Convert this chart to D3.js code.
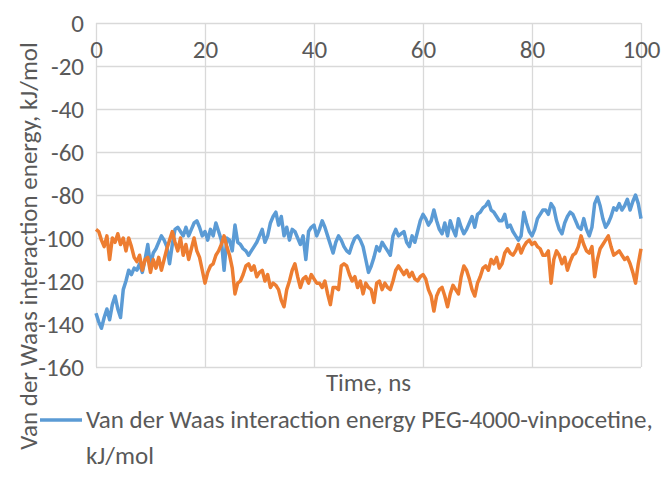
<!DOCTYPE html>
<html>
<head>
<meta charset="utf-8">
<script src="https://cdn.jsdelivr.net/npm/d3@7"></script>
<style>
  body { margin: 0; background: #fff; }
  text { font-family: Carlito, Calibri, Lato, sans-serif; fill: #595959; }
</style>
</head>
<body>
<div id="chart"></div>
<script>
// time axis: one sample every 0.5 ns, 0..100
const timeStep = 0.5;
const xTicks = [0, 20, 40, 60, 80, 100];
const yTicks = [0, -20, -40, -60, -80, -100, -120, -140, -160];

// PEG-4000 - vinpocetine (blue)
const pegVinpocetine = [
  -135,-139,-142,-137,-133,-138,-131,-127,-133,-137,
  -124,-120,-115,-117,-114,-115,-112,-116,-110,-103,
  -113,-107,-105,-102,-99,-101,-104,-112,-103,-96,
  -95,-97,-99,-95,-99,-96,-93,-92,-95,-99,
  -97,-101,-96,-99,-93,-97,-101,-115,-100,-101,
  -106,-94,-102,-103,-105,-106,-108,-106,-104,-102,
  -99,-96,-102,-99,-93,-90,-88,-94,-90,-99,
  -95,-101,-96,-97,-100,-103,-99,-110,-97,-95,
  -94,-99,-96,-92,-95,-99,-103,-107,-102,-99,
  -101,-104,-106,-107,-103,-100,-99,-101,-104,-110,
  -116,-113,-109,-104,-106,-102,-104,-106,-108,-99,
  -96,-99,-98,-97,-102,-104,-99,-102,-97,-92,
  -89,-91,-94,-92,-87,-92,-96,-98,-93,-99,
  -92,-96,-99,-91,-95,-98,-96,-93,-90,-95,
  -89,-88,-86,-85,-83,-87,-88,-90,-92,-92,
  -89,-95,-94,-97,-99,-101,-99,-88,-93,-97,
  -99,-96,-91,-89,-87,-87,-89,-84,-86,-92,
  -96,-98,-93,-90,-88,-89,-92,-95,-96,-91,
  -96,-99,-95,-84,-81,-85,-91,-95,-93,-90,
  -86,-87,-84,-87,-85,-82,-87,-83,-80,-84,
  -91
];

// second series (orange)
const secondSeries = [
  -96,-97,-101,-104,-99,-110,-100,-102,-98,-103,
  -100,-106,-100,-104,-109,-111,-108,-115,-110,-109,
  -116,-110,-114,-109,-115,-110,-105,-101,-97,-102,
  -106,-100,-108,-103,-110,-105,-100,-106,-109,-115,
  -121,-116,-113,-112,-108,-106,-103,-99,-104,-108,
  -114,-126,-121,-120,-117,-113,-112,-115,-113,-118,
  -116,-115,-120,-117,-123,-121,-122,-124,-129,-132,
  -124,-120,-115,-112,-118,-123,-119,-118,-121,-117,
  -119,-121,-121,-123,-120,-126,-131,-123,-123,-124,
  -113,-112,-113,-117,-120,-118,-123,-120,-126,-121,
  -123,-124,-130,-121,-120,-124,-121,-123,-124,-120,
  -115,-113,-115,-117,-115,-118,-116,-119,-120,-118,
  -117,-119,-124,-127,-134,-127,-124,-123,-127,-132,
  -126,-122,-124,-126,-118,-113,-115,-119,-124,-127,
  -121,-118,-114,-113,-115,-110,-112,-109,-114,-112,
  -107,-105,-107,-108,-106,-103,-107,-104,-102,-101,
  -103,-102,-104,-105,-108,-108,-106,-121,-110,-106,
  -108,-112,-109,-115,-111,-108,-107,-104,-99,-103,
  -106,-107,-104,-118,-110,-105,-103,-101,-99,-104,
  -108,-107,-106,-108,-110,-109,-112,-116,-121,-112,
  -105
];

const legendLabel = ['Van der Waas interaction energy PEG-4000-vinpocetine,', 'kJ/mol'];
const yTitle = 'Van der Waas interaction energy, kJ/mol';
const xTitle = 'Time, ns';

const width = 670, height = 488;
const margin = { left: 96, right: 29, top: 23, bottom: 121 };
const fontSize = 25;

const svg = d3.select('#chart').append('svg')
  .attr('width', width)
  .attr('height', height);

const x = d3.scaleLinear().domain([0, 100]).range([margin.left, width - margin.right]);
const y = d3.scaleLinear().domain([0, -160]).range([margin.top, height - margin.bottom]);

// grid
svg.append('g')
  .attr('class', 'grid-y')
  .attr('transform', `translate(${margin.left},0)`)
  .call(d3.axisLeft(y).tickValues(yTicks).tickSize(-(x.range()[1] - x.range()[0])).tickFormat(''))
  .call(g => g.select('.domain').remove())
  .call(g => g.selectAll('line').attr('stroke', '#d9d9d9').attr('stroke-width', 1.3));

svg.append('g')
  .attr('class', 'grid-x')
  .attr('transform', `translate(0,${y(-160)})`)
  .call(d3.axisBottom(x).tickValues(xTicks).tickSize(-(y.range()[1] - y.range()[0])).tickFormat(''))
  .call(g => g.select('.domain').remove())
  .call(g => g.selectAll('line').attr('stroke', '#d9d9d9').attr('stroke-width', 1.3));

// lines
const line = d3.line()
  .x((d, i) => x(i * timeStep))
  .y(d => y(d));

svg.append('path')
  .datum(pegVinpocetine)
  .attr('fill', 'none')
  .attr('stroke', '#5b9bd5')
  .attr('stroke-width', 3.5)
  .attr('stroke-linejoin', 'round')
  .attr('d', line);

svg.append('path')
  .datum(secondSeries)
  .attr('fill', 'none')
  .attr('stroke', '#ed7d31')
  .attr('stroke-width', 3.5)
  .attr('stroke-linejoin', 'round')
  .attr('d', line);

// axes (labels only)
svg.append('g')
  .attr('transform', `translate(0,${y(0)})`)
  .call(d3.axisBottom(x).tickValues(xTicks).tickSize(0).tickPadding(17).tickFormat(d => String(d)))
  .call(g => g.select('.domain').remove())
  .call(g => g.selectAll('text').style('font-size', fontSize + 'px').attr('fill', '#595959'));

svg.append('g')
  .attr('transform', `translate(${margin.left},0)`)
  .call(d3.axisLeft(y).tickValues(yTicks).tickSize(0).tickPadding(12).tickFormat(d => String(d)))
  .call(g => g.select('.domain').remove())
  .call(g => g.selectAll('text').style('font-size', fontSize + 'px').attr('fill', '#595959'));

// axis titles
svg.append('text')
  .attr('transform', `translate(37,${246}) rotate(-90)`)
  .attr('text-anchor', 'middle')
  .style('font-size', fontSize + 'px')
  .text(yTitle);

svg.append('text')
  .attr('x', (x(0) + x(100)) / 2)
  .attr('y', 391)
  .attr('text-anchor', 'middle')
  .style('font-size', fontSize + 'px')
  .text(xTitle);

// legend
const legend = svg.append('g').attr('class', 'legend');
legend.append('line')
  .attr('x1', 40).attr('x2', 82)
  .attr('y1', 420).attr('y2', 420)
  .attr('stroke', '#5b9bd5')
  .attr('stroke-width', 3.5);
legend.selectAll('text.lg')
  .data(legendLabel)
  .join('text')
  .attr('class', 'lg')
  .attr('x', 86)
  .attr('y', (d, i) => 428 + i * 36)
  .style('font-size', fontSize + 'px')
  .text(d => d);
</script>
</body>
</html>
